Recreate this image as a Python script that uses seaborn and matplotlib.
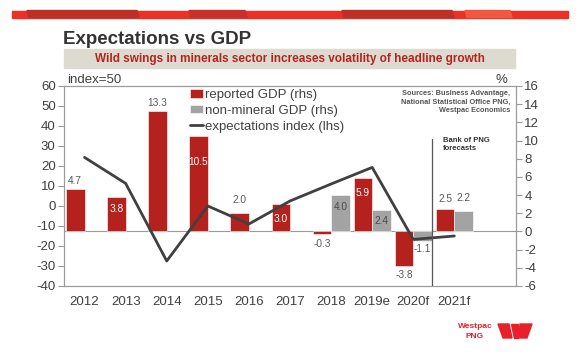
import numpy as np
import pandas as pd
import seaborn as sns
import matplotlib.pyplot as plt
from matplotlib.patches import Rectangle, Polygon

# data
years = ['2012', '2013', '2014', '2015', '2016', '2017', '2018', '2019e', '2020f', '2021f']
reported_gdp = [4.7, 3.8, 13.3, 10.5, 2.0, 3.0, -0.3, 5.9, -3.8, 2.5]
non_mineral_gdp = [np.nan, np.nan, np.nan, np.nan, np.nan, np.nan, 4.0, 2.4, -1.1, 2.2]
expectations = [24.3, 11.3, -27.5, 0.0, -9.0, 2.5, 11.0, 19.3, -16.7, -15.0]
series_names = ['reported GDP (rhs)', 'non-mineral GDP (rhs)']

RED = '#B5211C'
GREY = '#A3A3A3'
DARK = '#404040'

sns.set_theme(style='white')
plt.rcParams['font.family'] = ['Liberation Sans', 'DejaVu Sans']
plt.rcParams['axes.unicode_minus'] = False

df = pd.DataFrame({
    'year': years + years,
    'series': [series_names[0]] * len(years) + [series_names[1]] * len(years),
    'value': reported_gdp + non_mineral_gdp,
})

W, H = 580, 356
fig = plt.figure(figsize=(W / 100, H / 100), dpi=100)
fig.patch.set_facecolor('white')

def fx(px):
    return px / W

def fy(py):
    return 1 - py / H

ax = fig.add_axes([fx(64), fy(286), fx(452), 200 / H])
ax_r = ax.twinx()

# bars on the right-hand scale
sns.barplot(data=df, x='year', y='value', hue='series', order=years,
            hue_order=series_names, palette=[RED, GREY], width=0.9,
            saturation=1, errorbar=None, edgecolor='white', linewidth=0.4,
            ax=ax_r)
ax_r.axhline(0, color='#9A9A9A', lw=0.8, zorder=0.5)

# expectations line on the left-hand scale
sns.lineplot(x=np.arange(len(years)), y=expectations, ax=ax, color=DARK,
             lw=2, label='expectations index (lhs)')
ax.set_zorder(ax_r.get_zorder() + 1)
ax.patch.set_visible(False)

ax.set_ylim(-40, 60)
ax_r.set_ylim(-6, 16)
ax.set_yticks(range(-40, 61, 10))
ax_r.set_yticks(range(-6, 17, 2))
ax.set_xticks(range(len(years)))
ax.set_xticklabels(years)
ax.set_xlim(-0.5, 10.5)
ax.set_xlabel('')
ax.set_ylabel('')
ax_r.set_ylabel('')
ax_r.set_xlabel('')

for a in (ax, ax_r):
    for s in a.spines.values():
        s.set_color('#9A9A9A')
        s.set_linewidth(0.8)
    a.tick_params(axis='y', length=4, width=0.8, color='#9A9A9A',
                  labelsize=9.5, labelcolor=DARK, pad=2)
ax.tick_params(axis='x', length=0, labelsize=9.5, labelcolor=DARK, pad=7)

# forecast divider
ax.axvline(8.45, ymin=0, ymax=0.735, color='#555555', lw=0.9)

# bar value labels: (offset in px from bar end, colour)
rep_lab = [(8, '#595959'), (-12.5, 'white'), (8, '#595959'), (-26, 'white'),
           (13, '#595959'), (-15, 'white'), (-9.5, '#595959'), (-15.5, 'white'),
           (-9.5, '#595959'), (10, '#595959')]
nm_lab = [None, None, None, None, None, None, (-12, '#4A4A4A'),
          (-11, '#4A4A4A'), (-8, '#595959'), (13, '#595959')]
for i, v in enumerate(reported_gdp):
    dy, col = rep_lab[i]
    ax_r.annotate(f'{v:.1f}', (i - 0.225, v), xytext=(0, dy * 0.72),
                  textcoords='offset points', ha='center', va='center',
                  fontsize=7.3, color=col)
for i, v in enumerate(non_mineral_gdp):
    if nm_lab[i] is None:
        continue
    dy, col = nm_lab[i]
    ax_r.annotate(f'{v:.1f}', (i + 0.225, v), xytext=(0, dy * 0.72),
                  textcoords='offset points', ha='center', va='center',
                  fontsize=7.3, color=col)

# legend
h1, l1 = ax_r.get_legend_handles_labels()
h2, l2 = ax.get_legend_handles_labels()
if ax_r.get_legend() is not None:
    ax_r.get_legend().remove()
leg = ax.legend(h1 + h2, l1 + l2, loc='upper left',
                bbox_to_anchor=(fx(190), fy(89)), bbox_transform=fig.transFigure,
                frameon=False, fontsize=9.5, handlelength=1.0, handleheight=0.6,
                handletextpad=0.1, labelspacing=0.3, borderpad=0,
                borderaxespad=0)
for t in leg.get_texts():
    t.set_color(DARK)

# header stripe
fig.patches.append(Rectangle((fx(12), fy(17.5)), fx(556), 7 / H,
                             transform=fig.transFigure, color='#EE2F25'))
for x0, x1, c in [(27, 137, '#BE2F28'), (189, 245, '#C9302A'),
                  (342, 452, '#BE2F28'), (465, 510, '#F2573F')]:
    fig.patches.append(Polygon([(fx(x0 + 2), fy(17.5)), (fx(x1 + 2), fy(17.5)),
                                (fx(x1), fy(10.5)), (fx(x0), fy(10.5))],
                               closed=True, transform=fig.transFigure, color=c))

fig.text(fx(63), fy(44), 'Expectations vs GDP', fontsize=13.5, weight='bold',
         color='#333333', va='baseline')
fig.patches.append(Rectangle((fx(64), fy(68.3)), fx(451), 19 / H,
                             transform=fig.transFigure, color='#DDDBCF'))
fig.text(fx(289.5), fy(59.3),
         'Wild swings in minerals sector increases volatility of headline growth',
         ha='center', va='center', fontsize=8.5, weight='bold', color='#B3241F')

fig.text(fx(67), fy(80), 'index=50', va='center', fontsize=9.5, color=DARK)
fig.text(fx(501), fy(80), '%', ha='center', va='center', fontsize=9.5, color=DARK)

fig.text(fx(510), fy(90),
         'Sources: Business Advantage,\nNational Statistical Office PNG,\nWestpac Economics',
         ha='right', va='top', fontsize=5.3, weight='bold', color='#555555',
         linespacing=1.3)
fig.text(fx(443), fy(137), 'Bank of PNG\nforecasts', ha='left', va='top',
         fontsize=5.5, weight='bold', color='#333333', linespacing=1.3)

# Westpac PNG logo
fig.text(fx(475), fy(326.7), 'Westpac', ha='center', va='center', fontsize=6,
         weight='bold', color='#E8202A')
fig.text(fx(475), fy(337), 'PNG', ha='center', va='center', fontsize=6,
         weight='bold', color='#E8202A')
for pts in [[(498, 324), (509, 324), (512, 338), (503, 338)],
            [(511, 324), (518, 324), (518, 338), (514, 338)],
            [(520, 324), (532, 324), (527, 338), (519, 338)]]:
    fig.patches.append(Polygon([(fx(a), fy(b)) for a, b in pts], closed=True,
                               transform=fig.transFigure, color='#E8202A'))

fig.savefig('out.png', dpi=100, facecolor='white')
